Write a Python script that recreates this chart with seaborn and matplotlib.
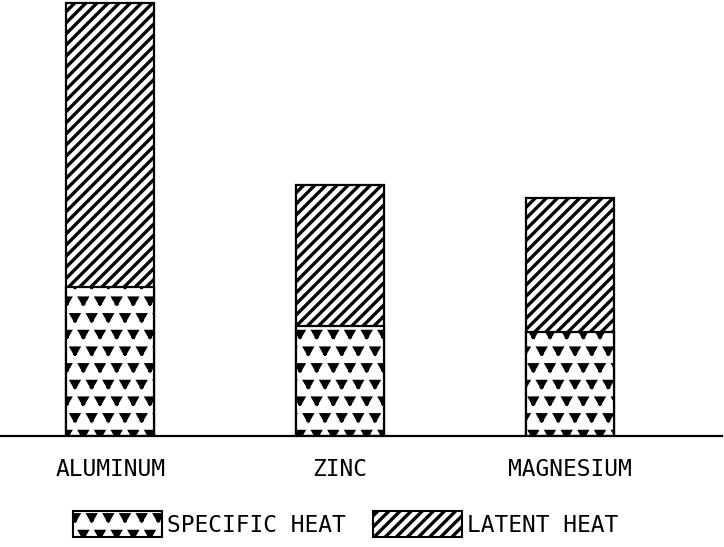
import numpy as np
import pandas as pd
import matplotlib
matplotlib.use("Agg")
import matplotlib.pyplot as plt
import matplotlib.hatch as mhatch
from matplotlib.path import Path
from matplotlib.patches import Patch
import seaborn as sns

# values (relative heat units)
metals = ["ALUMINUM", "ZINC", "MAGNESIUM"]
specific_heat = [149, 110, 104]
latent_heat = [284, 141, 134]


class DownTriangles(mhatch.Shapes):
    """filled downward triangles, used in place of the '*' hatch"""
    size = 0.23
    filled = True

    def __init__(self, hatch, density):
        self.num_rows = hatch.count('*') * density
        verts = Path.unit_regular_polygon(3).vertices * np.array([1, -1])
        self.shape_vertices = verts
        self.shape_codes = np.full(len(verts), Path.LINETO, dtype=Path.code_type)
        self.shape_codes[0] = Path.MOVETO
        super().__init__(hatch, density)


mhatch._hatch_types = [DownTriangles if t is mhatch.Stars else t
                       for t in mhatch._hatch_types]

sns.set_style("white")
plt.rcParams['font.family'] = ['DejaVu Sans Mono', 'DejaVu Sans']
plt.rcParams['text.color'] = 'black'
plt.rcParams['xtick.color'] = 'black'
plt.rcParams['hatch.linewidth'] = 2.4
plt.rcParams['hatch.color'] = 'black'

df = pd.DataFrame({
    "metal": metals,
    "specific": specific_heat,
    "latent": latent_heat,
})
df["total"] = df["specific"] + df["latent"]

fig = plt.figure(figsize=(7.24, 5.47), dpi=100)
ax = fig.add_axes([0.0, 0.203, 0.997, 0.797])

bar_kw = dict(color="white", saturation=1, edgecolor="black", linewidth=1.6,
              width=0.384, ax=ax)
sns.barplot(data=df, x="metal", y="total", hatch="///", **bar_kw)
sns.barplot(data=df, x="metal", y="specific", hatch="*", **bar_kw)

ax.set_xlim(-0.48, 2.66)
ax.set_ylim(0, 436)
ax.set_xlabel("")
ax.set_ylabel("")
ax.set_yticks([])
for side in ["top", "right", "left"]:
    ax.spines[side].set_visible(False)
ax.spines["bottom"].set_linewidth(1.6)
ax.spines["bottom"].set_color("black")
ax.tick_params(axis="x", length=0, pad=16, labelsize=16.5, labelcolor="black")

handles = [
    Patch(facecolor="white", edgecolor="black", hatch="*", linewidth=1.5,
          label="SPECIFIC HEAT"),
    Patch(facecolor="white", edgecolor="black", hatch="///", linewidth=1.5,
          label="LATENT HEAT"),
]
fig.legend(handles=handles, loc="center", bbox_to_anchor=(0.477, 0.042),
           ncol=2, frameon=False, fontsize=16.5, handlelength=3.9,
           handleheight=1.4, handletextpad=0.2, columnspacing=1.2)

fig.savefig("out.png", dpi=100)
